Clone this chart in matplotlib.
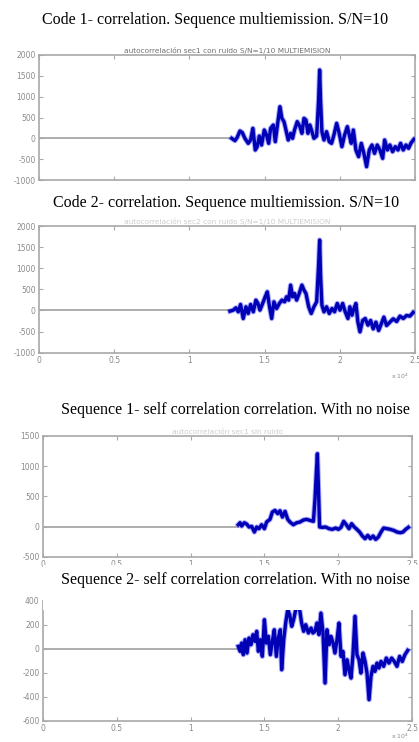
import matplotlib.pyplot as plt
from matplotlib.patches import Rectangle

# x values are lags in units of 10^4 (MATLAB "x 10^4" axis)
lag_1 = [1.281, 1.303, 1.318, 1.336, 1.352, 1.369, 1.391, 1.407, 1.422, 1.438, 1.451, 1.465, 1.480, 1.498,
         1.513, 1.527, 1.540, 1.558, 1.571, 1.584, 1.602, 1.615, 1.629, 1.642, 1.657, 1.673, 1.686, 1.699,
         1.717, 1.735, 1.748, 1.762, 1.775, 1.788, 1.801, 1.815, 1.828, 1.846, 1.859, 1.866, 1.872, 1.881,
         1.895, 1.912, 1.930, 1.945, 1.961, 1.979, 1.996, 2.014, 2.032, 2.050, 2.063, 2.076, 2.090, 2.107,
         2.125, 2.143, 2.160, 2.178, 2.196, 2.214, 2.231, 2.249, 2.267, 2.285, 2.298, 2.316, 2.333, 2.351,
         2.369, 2.387, 2.404, 2.422, 2.440, 2.457, 2.475, 2.493]
corr_1 = [0, -56, 24, 176, 136, 0, -120, -40, 240, -280, -200, 56, -160, 200,
          80, -120, 240, 320, -80, 280, 760, 480, 400, 200, -40, 120, 0, 200,
          400, 280, 120, 480, 440, 120, 320, 160, 0, 56, 920, 1640, 920, 160,
          -40, 160, -80, -120, 80, 360, 120, -200, 80, 280, 80, -120, 200, -280,
          -440, -120, -360, -680, -280, -160, -360, -160, -280, -480, -40, -280, -160, -320,
          -200, -280, -120, -280, -160, -240, -104, -24]

lag_2 = [1.270, 1.292, 1.309, 1.325, 1.340, 1.358, 1.376, 1.391, 1.407, 1.425, 1.442, 1.456, 1.469, 1.487,
         1.504, 1.518, 1.531, 1.547, 1.562, 1.580, 1.598, 1.615, 1.633, 1.646, 1.660, 1.673, 1.686, 1.699,
         1.713, 1.730, 1.748, 1.762, 1.775, 1.793, 1.810, 1.828, 1.846, 1.859, 1.866, 1.872, 1.881, 1.895,
         1.912, 1.930, 1.948, 1.965, 1.983, 2.001, 2.019, 2.036, 2.054, 2.067, 2.081, 2.094, 2.107, 2.120,
         2.134, 2.152, 2.169, 2.187, 2.205, 2.222, 2.240, 2.258, 2.276, 2.293, 2.311, 2.333, 2.355, 2.378,
         2.400, 2.422, 2.444, 2.466, 2.488]
corr_2 = [-16, 8, 63, -32, 142, -190, 87, -71, 142, -32, 245, 166, 8, 166,
          324, 442, 126, -190, 205, 47, 166, 245, 205, 324, 245, 600, 324, 403,
          245, 403, 600, 482, 403, 87, -71, 87, 205, 1074, 1667, 837, 126, -32,
          87, -71, 47, -32, 166, 8, 166, -32, -190, 87, -111, 47, 166, -269,
          -506, -237, -190, -348, -237, -435, -277, -474, -316, -158, -356, -277, -198, -261,
          -134, -190, -118, -134, -47]

lag_3 = [1.323, 1.335, 1.346, 1.364, 1.380, 1.396, 1.414, 1.432, 1.448, 1.463, 1.481, 1.500, 1.515, 1.538,
         1.554, 1.572, 1.590, 1.606, 1.622, 1.640, 1.658, 1.673, 1.696, 1.719, 1.741, 1.764, 1.786, 1.809,
         1.832, 1.843, 1.852, 1.859, 1.865, 1.874, 1.893, 1.915, 1.938, 1.960, 1.983, 2.001, 2.019, 2.037,
         2.055, 2.073, 2.091, 2.109, 2.127, 2.145, 2.164, 2.182, 2.200, 2.218, 2.236, 2.254, 2.272, 2.290,
         2.308, 2.331, 2.353, 2.376, 2.398, 2.421, 2.439, 2.457, 2.475]
corr_3 = [30, 63, 8, 63, 41, -8, 3, -91, -8, -36, 30, -36, 75, 119,
          240, 268, 213, 262, 157, 251, 119, 75, 30, 63, 75, 108, 119, 102,
          86, 461, 903, 1206, 737, -8, -14, -8, -36, -47, -25, -47, -14, 86,
          30, -36, 47, -8, -47, -91, -157, -201, -146, -201, -157, -213, -174, -91,
          -25, -36, -47, -64, -91, -102, -91, -47, -14]

lag_4 = [1.323, 1.335, 1.346, 1.357, 1.369, 1.382, 1.396, 1.409, 1.423, 1.436, 1.448, 1.459, 1.472, 1.486,
         1.500, 1.513, 1.527, 1.540, 1.554, 1.567, 1.581, 1.594, 1.608, 1.617, 1.631, 1.644, 1.658, 1.671,
         1.685, 1.698, 1.712, 1.725, 1.739, 1.752, 1.766, 1.780, 1.798, 1.816, 1.829, 1.843, 1.856, 1.870,
         1.883, 1.897, 1.911, 1.924, 1.938, 1.951, 1.965, 1.978, 1.992, 2.005, 2.019, 2.032, 2.046, 2.060,
         2.073, 2.087, 2.100, 2.114, 2.127, 2.141, 2.154, 2.168, 2.182, 2.195, 2.209, 2.222, 2.236, 2.249,
         2.263, 2.276, 2.290, 2.308, 2.326, 2.344, 2.362, 2.380, 2.398, 2.416, 2.434, 2.452, 2.471]
corr_4 = [19, -22, 47, -50, 75, -36, 89, 33, 117, 61, 145, -22, 75, -64,
          242, 47, 103, -50, 61, 158, -64, 89, 158, -175, 75, 214, 325, 284,
          186, 242, 325, 340, 325, 214, 145, 200, 131, 172, 131, 145, 214, 117,
          297, 131, -286, 158, 33, 103, 47, -36, 75, 214, -64, -22, -217, -92,
          -175, -245, -50, 270, -50, -92, -203, -36, -106, -203, -425, -231, -147, -189,
          -120, -161, -106, -147, -78, -120, -78, -106, -147, -64, -106, -50, -14]

titles = ['Code 1- correlation. Sequence multiemission. S/N=10',
          'Code 2- correlation. Sequence multiemission. S/N=10',
          'Sequence 1- self correlation correlation. With no noise',
          'Sequence 2- self correlation correlation. With no noise']
inner_titles = ['autocorrelación sec1 con ruido S/N=1/10 MULTIEMISION',
                'autocorrelación sec2 con ruido S/N=1/10 MULTIEMISION',
                'autocorrelación sec1 sin ruido', '']
x_ticks = [0, 0.5, 1, 1.5, 2, 2.5]
x_labels = ['0', '0.5', '1', '1.5', '2', '2.5']
y_ticks = [[-1000, -500, 0, 500, 1000, 1500, 2000],
           [-1000, -500, 0, 500, 1000, 1500, 2000],
           [-500, 0, 500, 1000, 1500],
           [-600, -400, -200, 0, 200, 400]]

W, H = 419, 742
fig = plt.figure(figsize=(W / 100, H / 100), dpi=100)

# axes boxes in pixels: left, top, right, bottom
boxes = [(39, 55, 415, 180), (39, 226, 415, 352.7), (43, 436, 412, 556.7), (43, 600.7, 412, 720.7)]
title_pos = [(215, 20), (226, 203), (235, 410), (235, 580)]
grey = '#a8a8a8'
label_grey = '#8a8a8a'

series = [(lag_1, corr_1), (lag_2, corr_2), (lag_3, corr_3), (lag_4, corr_4)]

for i, (lag, corr) in enumerate(series):
    l, t, r, b = boxes[i]
    ax = fig.add_axes([l / W, 1 - b / H, (r - l) / W, (b - t) / H])
    ax.set_xlim(0, 2.5)
    ax.set_ylim(y_ticks[i][0], y_ticks[i][-1])

    # flat part of the correlation (zero) then the signal
    ax.plot([0, lag[0]], [0, 0], color=grey, lw=1.3, zorder=2)
    ax.plot(lag, corr, color='#3a3aff', lw=3.8, alpha=0.45, zorder=3)
    ax.plot(lag, corr, color='#0000b4', lw=2.4, zorder=4)

    ax.set_xticks(x_ticks)
    ax.set_yticks(y_ticks[i])
    ax.set_yticklabels([str(v) for v in y_ticks[i]])
    if i == 0:
        ax.set_xticklabels([])
    else:
        ax.set_xticklabels(x_labels)
    ax.tick_params(direction='in', length=3, width=0.8, color=grey, labelcolor=label_grey,
                   labelsize=5.5, top=True, right=True, pad=2.5)
    for s in ax.spines.values():
        s.set_color(grey)
        s.set_linewidth(1.2)

    # faint matlab title inside figure
    if inner_titles[i]:
        a = 1.0 if i == 0 else 0.35
        ax.text(0.5, 1.01, inner_titles[i], transform=ax.transAxes, ha='center', va='bottom',
                fontsize=5.3, color='#707070', alpha=a)

# MATLAB exponent labels
fig.text(409 / W, 1 - 376 / H, r'x 10$^4$', fontsize=4.5, color=label_grey, ha='right', va='center')
fig.text(409 / W, 1 - 736 / H, r'x 10$^4$', fontsize=4.5, color=label_grey, ha='right', va='center')

# the caption of the last panel was pasted over the top of its plot
fig.patches.append(Rectangle((43 / W, 1 - 610 / H), (W - 43) / W, 45 / H, transform=fig.transFigure,
                             facecolor='white', edgecolor='none', zorder=5))

for i, txt in enumerate(titles):
    x, y = title_pos[i]
    fig.text(x / W, 1 - y / H, txt, fontsize=11.5, family='Liberation Serif', color='black',
             ha='center', va='center', zorder=6)

plt.savefig('out.png', dpi=100)
